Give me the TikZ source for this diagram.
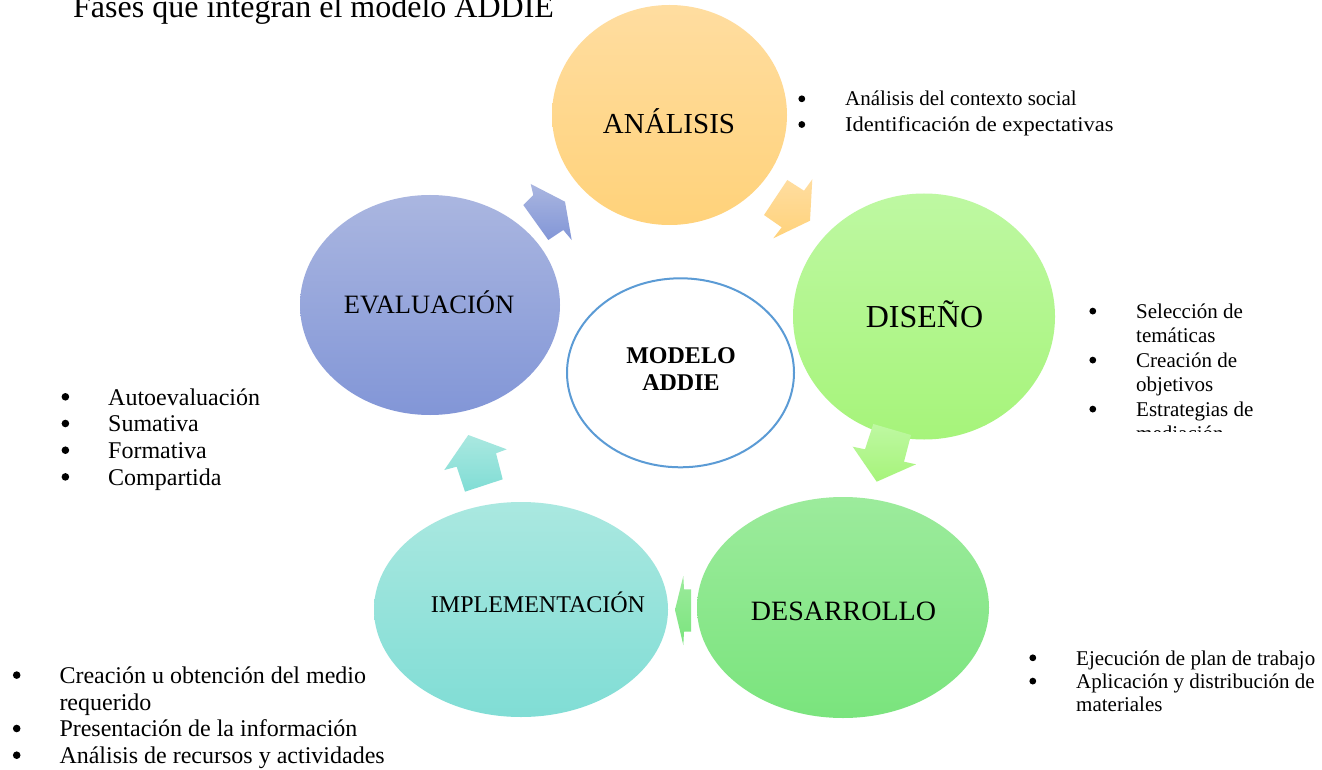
\documentclass[tikz,border=0pt]{standalone}
\usepackage{fontspec}
\setmainfont{Liberation Serif}
\usetikzlibrary{shapes.geometric}
\definecolor{anaT}{RGB}{255,221,160}
\definecolor{anaB}{RGB}{255,210,122}
\definecolor{disT}{RGB}{190,248,162}
\definecolor{disB}{RGB}{166,244,122}
\definecolor{desT}{RGB}{156,235,156}
\definecolor{desB}{RGB}{122,228,125}
\definecolor{impT}{RGB}{170,232,224}
\definecolor{impB}{RGB}{128,221,213}
\definecolor{evaT}{RGB}{170,182,224}
\definecolor{evaB}{RGB}{130,150,215}
\definecolor{ring}{RGB}{91,155,213}
% bullet: gap to text, radius, height of centre above baseline
\newcommand\bul[3]{\llap{\raisebox{\dimexpr#3pt-#2pt\relax}{\tikz\fill[black] (0pt,0pt) circle[radius=#2pt];}\hspace{#1pt}}}
\newcommand\bs{\bul{40}{3.4}{7.2}}
\newcommand\bl{\bul{39}{3.8}{8.2}}
\begin{document}
\begin{tikzpicture}[x=1pt,y=-1pt,
  phase/.style={ellipse, draw=none, inner sep=0pt, outer sep=0pt},
  lbl/.style={inner sep=0pt, anchor=base},
  lst/.style={inner sep=0pt, anchor=base west},
  blockarr/.style={draw=none}]
\useasboundingbox (0,0) rectangle (1322,770);
\fill[white] (0,0) rectangle (1322,770);

% title (clipped at top by the page)
\node[lbl, anchor=base west, font=\fontsize{32}{38}\selectfont] (title) at (73,18) {Fases que integran el modelo ADDIE};

% phases
\node[phase, minimum width=235pt, minimum height=220pt, top color=anaT, bottom color=anaB] (ana) at (669.5,115) {};
\node[phase, minimum width=262pt, minimum height=246pt, top color=disT, bottom color=disB] (dis) at (924,316.5) {};
\node[phase, minimum width=292pt, minimum height=221pt, top color=desT, bottom color=desB] (des) at (843,607.5) {};
\node[phase, minimum width=294pt, minimum height=215pt, top color=impT, bottom color=impB] (imp) at (521,609.5) {};
\node[phase, minimum width=260pt, minimum height=220pt, top color=evaT, bottom color=evaB] (eva) at (430,305) {};
\node[ellipse, draw=ring, line width=2pt, fill=white, inner sep=0pt, minimum width=227pt, minimum height=189pt] (core) at (680.5,372.8) {};

% phase labels
\node[lbl, font=\fontsize{29}{34}\selectfont] (anaL) at (669,134) {ANÁLISIS};
\node[lbl, font=\fontsize{32}{38}\selectfont] (disL) at (924.5,327) {DISEÑO};
\node[lbl, font=\fontsize{28}{33}\selectfont] (desL) at (843.5,620) {DESARROLLO};
\node[lbl, font=\fontsize{24}{28}\selectfont] (impL) at (538,612) {IMPLEMENTACIÓN};
\node[lbl, font=\fontsize{26.5}{31}\selectfont] (evaL) at (429,313.3) {EVALUACIÓN};
\node[lbl, font=\bfseries\fontsize{24}{27.4}\selectfont] (coreL) at (681,363.3) {\begin{tabular}[t]{@{}c@{}}MODELO\\ADDIE\end{tabular}};

% block arrows between phases
\shade[blockarr, top color=evaT, bottom color=evaB]
  (530.7,184) -- (565,201.7) -- (571.7,240) -- (563.3,230) -- (548.3,240) -- (523.3,205) -- (533.3,195) -- cycle;
\shade[blockarr, top color=anaT, bottom color=anaB]
  (787.3,180) -- (804,190.7) -- (812.3,179.3) -- (810,220.7) -- (773.3,238.3) -- (781.7,227.3) -- (764,215) -- cycle;
\shade[blockarr, top color=disT, bottom color=disB]
  (873.3,424) -- (911,435) -- (904,461.7) -- (916,464.3) -- (876.7,481.7) -- (852.7,446.7) -- (865,449.3) -- cycle;
\shade[blockarr, top color=desT, bottom color=desB]
  (675,610) -- (683.3,576) -- (684,589.3) -- (691,589.3) -- (691,631.7) -- (684,631.7) -- (683.3,645) -- cycle;
\shade[blockarr, top color=impT, bottom color=impB]
  (468.3,435) -- (506.7,449.3) -- (496,453.3) -- (502.7,479.3) -- (465,491.7) -- (456.7,466.7) -- (444.3,470) -- cycle;

% lists
\node[lst, font=\fontsize{21}{25.7}\selectfont] (anaList) at (845,106)
  {\begin{tabular}[t]{@{}l@{}}\bs Análisis del contexto social\\\bs\scalebox{1.07}[1]{Identificación de expectativas}\end{tabular}};
\begin{scope}
\clip (1050,280) rectangle (1322,431);
\node[lst, font=\fontsize{21}{24.5}\selectfont] (disList) at (1136,318.3)
  {\begin{tabular}[t]{@{}l@{}}\bs Selección de\\temáticas\\\bs Creación de\\objetivos\\\bs Estrategias de\\mediación\end{tabular}};
\end{scope}
\node[lst, font=\fontsize{21}{23.3}\selectfont] (desList) at (1076,665)
  {\begin{tabular}[t]{@{}l@{}}\bs Ejecución de plan de trabajo\\\bs Aplicación y distribución de\\materiales\end{tabular}};
\node[lst, font=\fontsize{24}{26.7}\selectfont] (evaList) at (108,405)
  {\begin{tabular}[t]{@{}l@{}}\bl Autoevaluación\\\bl Sumativa\\\bl Formativa\\\bl Compartida\end{tabular}};
\node[lst, font=\fontsize{24}{26.7}\selectfont] (impList) at (59.3,683.3)
  {\begin{tabular}[t]{@{}l@{}}\bl Creación u obtención del medio\\requerido\\\bl Presentación de la información\\\bl Análisis de recursos y actividades\end{tabular}};
\end{tikzpicture}
\end{document}
